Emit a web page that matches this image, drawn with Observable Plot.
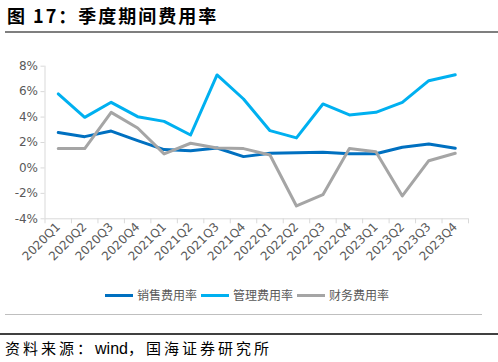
<!DOCTYPE html>
<html>
<head>
<meta charset="utf-8">
<script src="https://cdn.jsdelivr.net/npm/d3@7"></script>
<script src="https://cdn.jsdelivr.net/npm/@observablehq/plot@0.6"></script>
<style>
  html, body { margin: 0; padding: 0; background: #fff; }
  #wrap { position: relative; width: 498px; height: 362px; overflow: hidden; font-family: "Noto Sans CJK SC", "DejaVu Sans", sans-serif; }
  #title { position: absolute; left: 7px; top: 2px; font-size: 18px; font-weight: bold; color: #000; letter-spacing: 2px; line-height: 26px; white-space: nowrap; }
  #tline { position: absolute; left: 5px; top: 31px; width: 493px; height: 2px; background: #7f7f7f; }
  #chart { position: absolute; left: 0; top: 40px; }
  #legend { position: absolute; left: 0; top: 286px; width: 498px; display: flex; justify-content: center; align-items: center; font-size: 12px; color: #595959; line-height: 18px; }
  .item { display: flex; align-items: center; margin-right: 4px; }
  .sw { width: 28px; height: 3px; margin-right: 4px; }
  #sline { position: absolute; left: 5px; top: 314px; width: 477px; height: 1px; background: #bfbfbf; }
  #dline { position: absolute; left: 0; top: 333px; width: 498px; height: 2px; background: #404040; }
  #source { position: absolute; left: 5px; top: 337px; font-size: 15px; color: #000; letter-spacing: 3px; line-height: 22px; white-space: nowrap; }
  #source .lat { font-family: "Liberation Sans", Arial, sans-serif; letter-spacing: 0; font-size: 16px; }
</style>
</head>
<body>
<div id="wrap">
  <div id="title">图 17：季度期间费用率</div>
  <div id="tline"></div>
  <div id="chart"></div>
  <div id="legend"></div>
  <div id="sline"></div>
  <div id="dline"></div>
  <div id="source">资料来源：<span class="lat">wind</span>，国海证券研究所</div>
</div>
<script>
const quarters = ["2020Q1","2020Q2","2020Q3","2020Q4","2021Q1","2021Q2","2021Q3","2021Q4","2022Q1","2022Q2","2022Q3","2022Q4","2023Q1","2023Q2","2023Q3","2023Q4"];
const seriesNames = ["销售费用率", "管理费用率", "财务费用率"];
const salesRate = [2.78, 2.46, 2.9, 2.15, 1.44, 1.36, 1.57, 0.89, 1.15, 1.2, 1.23, 1.12, 1.12, 1.62, 1.88, 1.54];
const adminRate = [5.82, 3.98, 5.16, 4.03, 3.66, 2.59, 7.31, 5.42, 2.93, 2.36, 5.03, 4.17, 4.37, 5.16, 6.86, 7.33];
const financeRate = [1.52, 1.52, 4.37, 3.14, 1.1, 1.94, 1.57, 1.52, 1.02, -2.99, -2.1, 1.52, 1.28, -2.2, 0.57, 1.15];
const yTicks = [-4, -2, 0, 2, 4, 6, 8];
const colors = ["#0070C0", "#00B0F0", "#A5A5A5"];

const seriesValues = [salesRate, adminRate, financeRate];
const data = [];
seriesValues.forEach((vals, si) => {
  vals.forEach((v, i) => data.push({ q: quarters[i], v, s: seriesNames[si] }));
});

const W = 498, H = 240, mL = 44.5, mR = 30, mT = 25.7, mB = 61.7;
const bw = (W - mL - mR) / quarters.length;
const plotH = H - mT - mB;

const chart = Plot.plot({
  width: W, height: H,
  marginLeft: mL, marginRight: mR, marginTop: mT, marginBottom: mB,
  style: { fontFamily: "'DejaVu Sans', sans-serif", background: "transparent" },
  x: { type: "band", domain: quarters, padding: 0, round: false, label: null },
  y: { domain: [-4, 8], label: null },
  color: { domain: seriesNames, range: colors },
  marks: [
    Plot.ruleY([-4], { stroke: "#d9d9d9", strokeWidth: 1 }),
    Plot.ruleX([quarters[0]], { dx: -bw / 2, stroke: "#d9d9d9", strokeWidth: 1 }),
    Plot.ruleX(quarters, { dx: -bw / 2, stroke: "#d9d9d9", insetTop: plotH, insetBottom: -5 }),
    Plot.ruleX([quarters[quarters.length - 1]], { dx: bw / 2, stroke: "#d9d9d9", insetTop: plotH, insetBottom: -5 }),
    Plot.axisY({ ticks: yTicks, tickFormat: d => d + "%", tickSize: 4, tickPadding: 3, stroke: "#d9d9d9", fill: "#595959", fontSize: 12, label: null }),
    Plot.axisX({ tickSize: 0, tickPadding: 6, tickRotate: -45, fill: "#595959", fontSize: 12, label: null }),
    Plot.line(data, { x: "q", y: "v", z: "s", stroke: "s", strokeWidth: 3, strokeLinejoin: "round" })
  ]
});
document.getElementById("chart").appendChild(chart);

const legend = document.getElementById("legend");
seriesNames.forEach((name, i) => {
  const item = document.createElement("div");
  item.className = "item";
  const sw = document.createElement("div");
  sw.className = "sw";
  sw.style.background = colors[i];
  const t = document.createElement("span");
  t.textContent = name;
  item.appendChild(sw);
  item.appendChild(t);
  legend.appendChild(item);
});
</script>
</body>
</html>
